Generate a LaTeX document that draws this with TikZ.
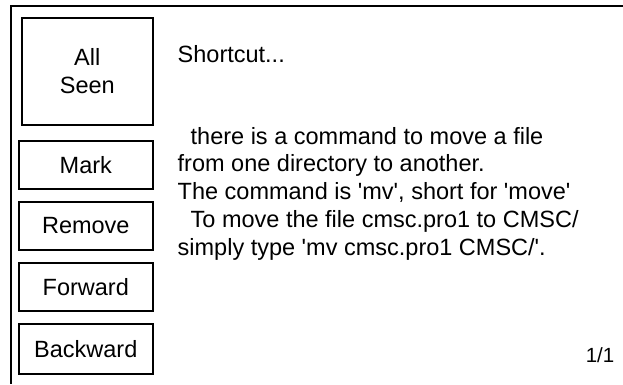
\documentclass[tikz,border=0pt]{standalone}
\usepackage{fontspec}
\setmainfont{Liberation Sans}
\newcommand{\sq}{\textquotesingle}
\begin{document}
\begin{tikzpicture}[x=1pt,y=-1pt,
  frame/.style={line width=2pt},
  btn/.style={draw,line width=2pt},
  lbl/.style={font=\fontsize{23.5}{27.7}\selectfont,align=center,inner sep=0pt},
  body/.style={font=\fontsize{23.5}{27.7}\selectfont,anchor=base west,inner sep=0pt}]
\useasboundingbox (0,0) rectangle (623,384);
% outer frame (top and left only)
\coordinate (tl) at (11.3,6.2);
\coordinate (tr) at (623,6.2);
\coordinate (bl) at (11.3,384);
\draw[frame] (tr) -- (tl) -- (bl);
% buttons
\draw[btn] (22,17.5) rectangle (152.7,124.5);
\node[lbl] (allseen) at (87.3,71) {All\\Seen};
\draw[btn] (19,140.7) rectangle (152.7,189);
\node[lbl] (mark) at (85.8,164.8) {Mark};
\draw[btn] (19,202) rectangle (152.7,250);
\node[lbl] (remove) at (85.8,226) {Remove};
\draw[btn] (19,263) rectangle (152.7,311);
\node[lbl] (forward) at (85.8,287) {Forward};
\draw[btn] (19,324) rectangle (152.7,374);
\node[lbl] (backward) at (85.8,349) {Backward};
% body text
\node[body] (title) at (177.5,62) {Shortcut...};
\node[body] (l1) at (177.5,144) {\hspace*{13pt}there is a command to move a file};
\node[body] (l2) at (177.5,171.7) {from one directory to another.};
\node[body] (l3) at (177.5,199.5) {The command is \sq mv\sq, short for \sq move\sq};
\node[body] (l4) at (177.5,227) {\hspace*{13pt}To move the file cmsc.pro1 to CMSC/};
\node[body] (l5) at (177.5,255) {simply type \sq mv cmsc.pro1 CMSC/\sq.};
\node[anchor=base east,inner sep=0pt,font=\fontsize{20.5}{24}\selectfont] (page) at (614.5,362) {1/1};
\end{tikzpicture}
\end{document}
